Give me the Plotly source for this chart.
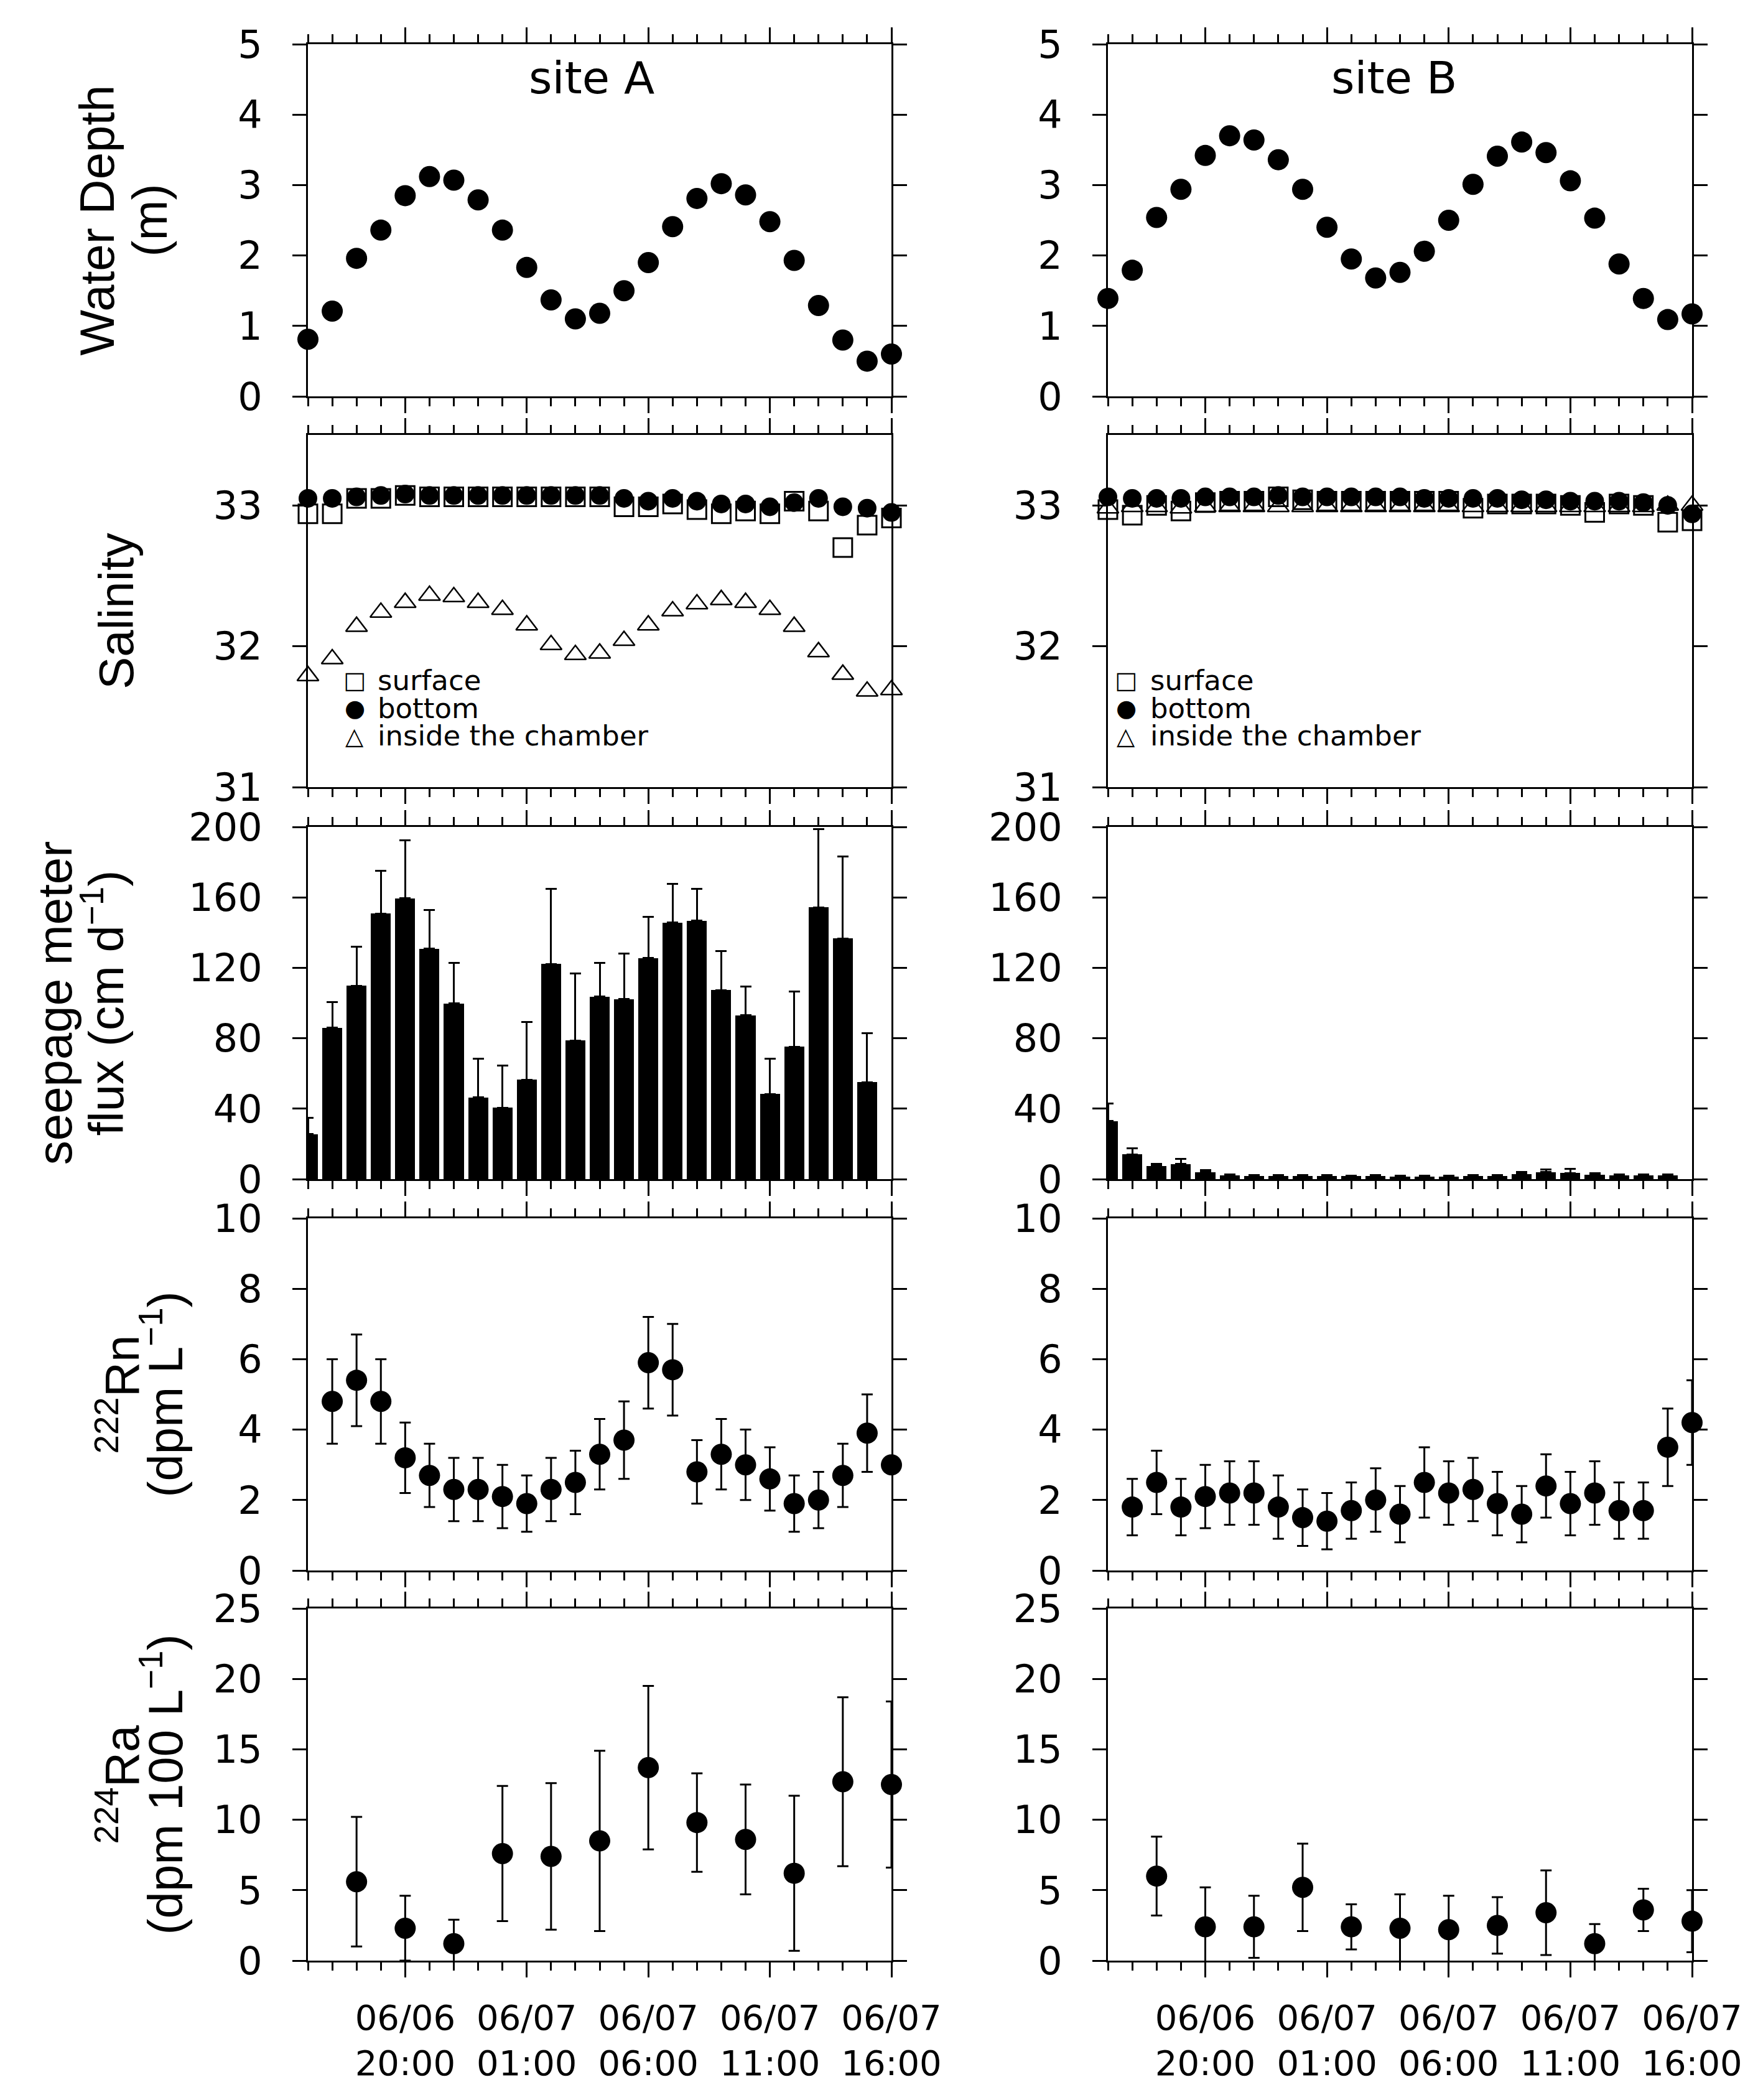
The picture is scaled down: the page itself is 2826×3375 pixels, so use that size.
import plotly.graph_objects as go
from plotly.subplots import make_subplots
import pandas as pd

# ---------------- data ----------------
T0 = pd.Timestamp("2011-06-06 16:00")
HOUR_MS = 3600000

hours_all = list(range(25))            # 06/06 16:00 ... 06/07 16:00
hours_bar = list(range(24))
hours_rn = list(range(1, 25))
hours_ra = [2, 4, 6, 8, 10, 12, 14, 16, 18, 20, 22, 24]

depth_A = [0.81, 1.21, 1.96, 2.36, 2.85, 3.12, 3.07, 2.79, 2.36, 1.83, 1.37, 1.10, 1.18,
           1.50, 1.90, 2.41, 2.81, 3.02, 2.86, 2.48, 1.93, 1.29, 0.80, 0.50, 0.60]
depth_B = [1.39, 1.79, 2.54, 2.94, 3.42, 3.70, 3.64, 3.36, 2.94, 2.40, 1.95, 1.68, 1.76,
           2.06, 2.50, 3.01, 3.41, 3.61, 3.46, 3.06, 2.53, 1.88, 1.39, 1.09, 1.17]

sal_A_surface = [32.94, 32.94, 33.05, 33.05, 33.07, 33.06, 33.06, 33.06, 33.06, 33.06, 33.06, 33.06, 33.06,
                 32.99, 32.99, 33.01, 32.97, 32.94, 32.96, 32.94, 33.03, 32.96, 32.70, 32.86, 32.91]
sal_A_bottom = [33.05, 33.05, 33.06, 33.07, 33.08, 33.07, 33.07, 33.07, 33.07, 33.07, 33.07, 33.07, 33.07,
                33.05, 33.03, 33.05, 33.03, 33.01, 33.01, 32.99, 33.02, 33.05, 32.99, 32.98, 32.95]
sal_A_chamber = [31.79, 31.91, 32.14, 32.24, 32.31, 32.36, 32.35, 32.31, 32.26, 32.15, 32.01, 31.94, 31.95,
                 32.04, 32.15, 32.25, 32.30, 32.33, 32.31, 32.26, 32.14, 31.96, 31.80, 31.68, 31.69]

sal_B_surface = [32.97, 32.93, 33.00, 32.96, 33.02, 33.03, 33.03, 33.06, 33.04, 33.03, 33.03, 33.03, 33.03,
                 33.03, 33.03, 32.98, 33.01, 33.01, 33.01, 33.00, 32.95, 33.01, 33.00, 32.88, 32.89]
sal_B_bottom = [33.06, 33.05, 33.05, 33.05, 33.06, 33.06, 33.06, 33.07, 33.06, 33.06, 33.06, 33.06, 33.06,
                33.05, 33.05, 33.05, 33.05, 33.04, 33.04, 33.03, 33.03, 33.03, 33.02, 33.00, 32.94]
sal_B_chamber = [32.98, 32.99, 32.99, 32.98, 32.99, 32.99, 32.99, 32.99, 32.99, 32.99, 32.99, 32.99, 32.99,
                 32.99, 32.99, 32.99, 32.99, 32.99, 32.99, 32.99, 32.99, 32.99, 32.99, 33.00, 33.00]

seep_A = [25.6, 86.0, 109.8, 150.8, 159.5, 130.9, 99.8, 46.3, 40.5, 56.4, 122.2, 78.8,
          103.7, 102.2, 125.5, 145.6, 146.8, 107.3, 93.0, 48.4, 75.2, 154.3, 136.7, 55.0]
seep_A_err = [9.1, 14.5, 22.1, 24.2, 32.8, 22.0, 23.1, 22.1, 24.1, 32.8, 42.7, 37.9,
              19.2, 25.8, 23.4, 22.1, 18.1, 22.1, 16.5, 20.0, 31.5, 44.5, 46.5, 27.9]
seep_B = [33.0, 14.0, 7.5, 8.5, 4.0, 2.0, 1.8, 1.8, 1.8, 1.8, 1.6, 1.8,
          1.5, 1.5, 1.5, 1.8, 1.8, 3.0, 4.0, 3.5, 2.5, 2.0, 2.0, 2.0]
seep_B_err = [10.0, 3.5, 1.0, 3.0, 1.0, 0.5, 0.5, 0.5, 0.5, 0.5, 0.5, 0.5,
              0.5, 0.5, 0.5, 0.5, 0.5, 1.0, 1.5, 2.5, 1.0, 0.5, 0.5, 0.5]

rn_A = [4.8, 5.4, 4.8, 3.2, 2.7, 2.3, 2.3, 2.1, 1.9, 2.3, 2.5, 3.3,
        3.7, 5.9, 5.7, 2.8, 3.3, 3.0, 2.6, 1.9, 2.0, 2.7, 3.9, 3.0]
rn_A_err = [1.2, 1.3, 1.2, 1.0, 0.9, 0.9, 0.9, 0.9, 0.8, 0.9, 0.9, 1.0,
            1.1, 1.3, 1.3, 0.9, 1.0, 1.0, 0.9, 0.8, 0.8, 0.9, 1.1, 0.0]
rn_B = [1.8, 2.5, 1.8, 2.1, 2.2, 2.2, 1.8, 1.5, 1.4, 1.7, 2.0, 1.6,
        2.5, 2.2, 2.3, 1.9, 1.6, 2.4, 1.9, 2.2, 1.7, 1.7, 3.5, 4.2]
rn_B_err = [0.8, 0.9, 0.8, 0.9, 0.9, 0.9, 0.9, 0.8, 0.8, 0.8, 0.9, 0.8,
            1.0, 0.9, 0.9, 0.9, 0.8, 0.9, 0.9, 0.9, 0.8, 0.8, 1.1, 1.2]

ra_A = [5.6, 2.3, 1.2, 7.6, 7.4, 8.5, 13.7, 9.8, 8.6, 6.2, 12.7, 12.5]
ra_A_err = [4.6, 2.3, 1.7, 4.8, 5.2, 6.4, 5.8, 3.5, 3.9, 5.5, 6.0, 5.9]
ra_B = [6.0, 2.4, 2.4, 5.2, 2.4, 2.3, 2.2, 2.5, 3.4, 1.2, 3.6, 2.8]
ra_B_err = [2.8, 2.8, 2.2, 3.1, 1.6, 2.4, 2.4, 2.0, 3.0, 1.4, 1.5, 2.2]

site_labels = ["site A", "site B"]
legend_labels = ["surface", "bottom", "inside the chamber"]
legend_symbols = ["\u25a1", "\u25cf", "\u25b3"]
ytitle_lines = [["Water Depth", "(m)"],
                ["Salinity"],
                ["seepage meter", "flux (cm d<sup>\u22121</sup>)"],
                ["<sup>222</sup>Rn", "(dpm L<sup>\u22121</sup>)"],
                ["<sup>224</sup>Ra", "(dpm 100 L<sup>\u22121</sup>)"]]
tick_fmt = "%m/%d<br>%H:%M"


def t(hs):
    return [T0 + pd.Timedelta(hours=h) for h in hs]


# ---------------- figure ----------------
W, H = 2826, 3375
SANS = "DejaVu Sans, Liberation Sans, sans-serif"
TITLE_FONT = "Liberation Sans, Arial, Helvetica, sans-serif"

fig = make_subplots(rows=5, cols=2)

ERR = dict(color="black", thickness=3, width=9)

for col, (dep, ss, sb, sc, sp, spe, rn, rne, ra, rae) in enumerate([
        (depth_A, sal_A_surface, sal_A_bottom, sal_A_chamber, seep_A, seep_A_err, rn_A, rn_A_err, ra_A, ra_A_err),
        (depth_B, sal_B_surface, sal_B_bottom, sal_B_chamber, seep_B, seep_B_err, rn_B, rn_B_err, ra_B, ra_B_err)], start=1):
    fig.add_trace(go.Scatter(x=t(hours_all), y=dep, mode="markers", cliponaxis=False, name="water depth",
                             marker=dict(symbol="circle", size=34, color="black"), showlegend=False),
                  row=1, col=col)
    fig.add_trace(go.Scatter(x=t(hours_all), y=ss, mode="markers", cliponaxis=False, name="surface",
                             marker=dict(symbol="square-open", size=30, color="black", line=dict(width=3)),
                             showlegend=False), row=2, col=col)
    fig.add_trace(go.Scatter(x=t(hours_all), y=sb, mode="markers", cliponaxis=False, name="bottom",
                             marker=dict(symbol="circle", size=30, color="black"), showlegend=False),
                  row=2, col=col)
    fig.add_trace(go.Scatter(x=t(hours_all), y=sc, mode="markers", cliponaxis=False, name="inside the chamber",
                             marker=dict(symbol="triangle-up-open", size=30, color="black", line=dict(width=2.5)),
                             showlegend=False), row=2, col=col)
    fig.add_trace(go.Bar(x=t(hours_bar), y=sp, width=0.82 * HOUR_MS, name="seepage meter flux",
                         marker=dict(color="black", line=dict(width=0)),
                         error_y=dict(type="data", symmetric=False, array=spe,
                                      arrayminus=[0] * len(spe), **ERR),
                         showlegend=False), row=3, col=col)
    fig.add_trace(go.Scatter(x=t(hours_rn), y=rn, mode="markers", cliponaxis=False, name="222Rn",
                             marker=dict(symbol="circle", size=34, color="black"),
                             error_y=dict(type="data", array=rne, **ERR), showlegend=False),
                  row=4, col=col)
    fig.add_trace(go.Scatter(x=t(hours_ra), y=ra, mode="markers", cliponaxis=False, name="224Ra",
                             marker=dict(symbol="circle", size=34, color="black"),
                             error_y=dict(type="data", array=rae, **ERR), showlegend=False),
                  row=5, col=col)

# ---------------- layout ----------------
col_dom = [[487 / W, 1425 / W], [1773 / W, 2712 / W]]
row_tops = [63, 691, 1321, 1950, 2577]
ROW_H = 566
row_dom = [[1 - (tp + ROW_H) / H, 1 - tp / H] for tp in row_tops]

yranges = [[0, 5], [31, 33.5], [0, 200], [0, 10], [0, 25]]
ydticks = [1, 1, 40, 2, 5]
title_base = [65, 65, 64, 54, 54]      # sets line spacing of the two-line titles
title_size = 78
ystandoff = [93, 107, 84, 32, 32]

for r in range(5):
    for c in range(2):
        idx = r * 2 + c + 1
        sfx = "" if idx == 1 else str(idx)
        xa = dict(
            anchor="y" + sfx, automargin=False,
            domain=col_dom[c], type="date", range=[T0, T0 + pd.Timedelta(hours=24)],
            showline=True, linecolor="black", linewidth=3, mirror="ticks",
            ticks="outside", ticklen=24, tickwidth=3, tickcolor="black",
            tick0=T0 + pd.Timedelta(hours=4), dtick=5 * HOUR_MS, tickformat=tick_fmt,
            showgrid=False, zeroline=False, showticklabels=(r == 4),
            tickfont=dict(family=SANS, size=56, color="black"), ticklabelstandoff=17,
            minor=dict(ticks="outside", ticklen=13, tickwidth=3, tickcolor="black",
                       dtick=HOUR_MS, tick0=T0, showgrid=False),
        )
        ya = dict(
            anchor="x" + sfx, automargin=False,
            domain=row_dom[r], range=yranges[r], dtick=ydticks[r], tick0=0,
            showline=True, linecolor="black", linewidth=3, mirror="ticks",
            ticks="outside", ticklen=22, tickwidth=3, tickcolor="black",
            showgrid=False, zeroline=False,
            tickfont=dict(family=SANS, size=62, color="black"), ticklabelstandoff=36,
        )
        if c == 0:
            txt = "<br>".join("<span style='font-size:%dpx'>%s</span>" % (title_size, ln)
                              for ln in ytitle_lines[r])
            ya["title"] = dict(text=txt, font=dict(family=TITLE_FONT, size=title_base[r], color="black"),
                               standoff=ystandoff[r])
        fig.layout["xaxis" + sfx] = xa
        fig.layout["yaxis" + sfx] = ya

annotations = []
site_x = [943, 2233]
for c in range(2):
    annotations.append(dict(text=site_labels[c], xref="paper", yref="paper",
                            x=site_x[c] / W, y=1 - 117 / H,
                            showarrow=False, xanchor="center", yanchor="middle",
                            font=dict(family=SANS, size=72, color="black")))
leg_sym_x = [562, 1802]
leg_txt_x = [597, 1839]
leg_y = [1085, 1130, 1175]
for c in range(2):
    for k in range(3):
        annotations.append(dict(text=legend_symbols[k], xref="paper", yref="paper",
                                x=leg_sym_x[c] / W, y=1 - leg_y[k] / H, showarrow=False,
                                xanchor="center", yanchor="middle",
                                font=dict(family="DejaVu Sans", size=38, color="black")))
        annotations.append(dict(text=legend_labels[k], xref="paper", yref="paper",
                                x=leg_txt_x[c] / W, y=1 - leg_y[k] / H, showarrow=False,
                                xanchor="left", yanchor="middle",
                                font=dict(family=SANS, size=45, color="black")))

fig.update_layout(
    template="none",
    width=W, height=H, margin=dict(l=0, r=0, t=0, b=0, autoexpand=False),
    paper_bgcolor="white", plot_bgcolor="white",
    showlegend=False, bargap=0, annotations=annotations,
    font=dict(family=SANS, color="black"),
)

fig.write_html("out.html")
